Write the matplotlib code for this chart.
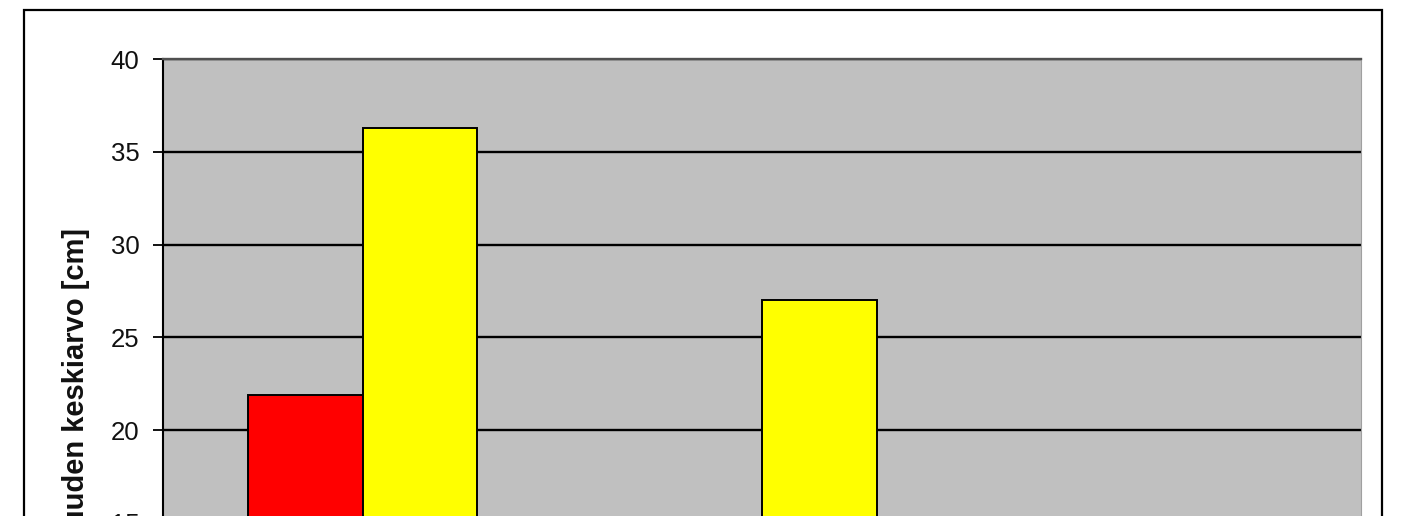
import matplotlib.pyplot as plt
import numpy as np
from matplotlib.patches import Rectangle

# Data (only the top of the chart is visible; hidden bars are estimates below 15)
categories = ["A", "B", "C"]
red_values = [21.9, 12.5, 9.0]
yellow_values = [36.3, 27.0, 11.0]
y_ticks = [0, 5, 10, 15, 20, 25, 30, 35, 40]

W, H = 1409, 516
fig = plt.figure(figsize=(W / 100, H / 100), dpi=100)
plt.rcParams["font.family"] = ["Liberation Sans", "DejaVu Sans"]

# Axes placed so the lower part falls outside the picture (cropped chart)
left, right = 163, 1361
top = 59
px_per_unit = 18.55
bottom = top + 40 * px_per_unit
ax = fig.add_axes([left / W, 1 - bottom / H, (right - left) / W, (bottom - top) / H])
ax.set_facecolor("#c0c0c0")

x = np.arange(len(categories))
bw = 0.287
ax.bar(x - bw / 2, red_values, bw, color="#ff0000", edgecolor="black", linewidth=1.4, zorder=3)
ax.bar(x + bw / 2, yellow_values, bw, color="#ffff00", edgecolor="black", linewidth=1.4, zorder=3)

ax.set_xlim(-0.5, len(categories) - 0.5)
ax.set_ylim(0, 40)
ax.set_yticks(y_ticks)
ax.set_yticklabels([str(t) for t in y_ticks], fontsize=18.5, color="#111111")
ax.set_xticks(x)
ax.set_xticklabels(categories)
ax.tick_params(axis="y", direction="out", length=7, width=1.3, pad=10)
ax.yaxis.grid(True, color="black", linewidth=1.7, zorder=1)
ax.set_axisbelow(True)

ax.spines["left"].set_linewidth(1.5)
ax.spines["top"].set_color("#505050")
ax.spines["top"].set_linewidth(1.7)
ax.spines["right"].set_color("#a0a0a0")
ax.spines["right"].set_linewidth(0.8)

# Y-axis label (partly cut off by the crop)
fig.text(76 / W, 1 - 228 / H, "Lumen paksuuden keskiarvo [cm]", rotation=90,
         ha="center", va="top", fontsize=21, fontweight="bold", color="#111111")

# Outer chart frame
frame = Rectangle((24 / W, -0.5), (1382 - 24) / W, 0.5 + 1 - 10 / H,
                  transform=fig.transFigure, fill=False, edgecolor="black", linewidth=1.6)
fig.patches.append(frame)

fig.savefig("out.png", dpi=100)
